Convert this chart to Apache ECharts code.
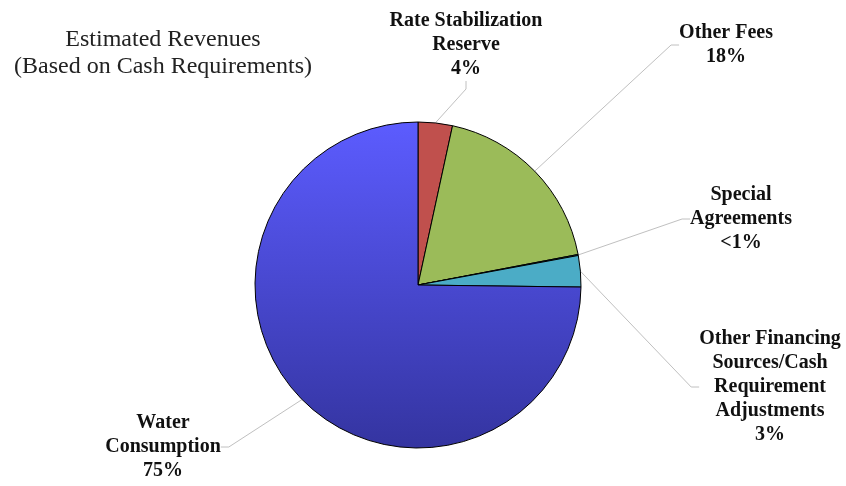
<!DOCTYPE html>
<html>
<head>
<meta charset="utf-8">
<script src="https://cdn.jsdelivr.net/npm/echarts@6/dist/echarts.min.js"></script>
<style>
  html, body { margin: 0; padding: 0; background: #fff; }
  #main { width: 846px; height: 486px; }
</style>
</head>
<body>
<div id="main"></div>
<script>
// slice data, clockwise from 12 o'clock
var names = ['Rate Stabilization\nReserve', 'Other Fees', 'Special\nAgreements',
             'Other Financing\nSources/Cash\nRequirement\nAdjustments', 'Water\nConsumption'];
var values = [3.4, 18.6, 0.1, 3.1, 74.8];
var pctLabels = ['4%', '18%', '<1%', '3%', '75%'];

var colors = [
    '#c0504d', '#9bbb59', '#4bacc6', '#4bacc6',
    new echarts.graphic.LinearGradient(0, 0, 0, 1, [
        { offset: 0, color: '#5c5cff' },
        { offset: 1, color: '#3434a0' }
    ])
];
// where each label block sits (center x, center y)
var labelPos = [[466, 45], [726, 45], [741, 219], [770, 387], [163, 447]];

var data = [];
for (var i = 0; i < names.length; i++) {
    data.push({
        name: names[i],
        value: values[i],
        itemStyle: { color: colors[i] }
    });
}

var myChart = echarts.init(document.getElementById('main'));
var option = {
    backgroundColor: '#fff',
    animation: false,
    title: {
        text: 'Estimated Revenues\n(Based on Cash Requirements)',
        left: 158,
        top: 21,
        textAlign: 'center',
        textStyle: {
            fontFamily: 'Liberation Serif',
            fontWeight: 'normal',
            fontSize: 24,
            lineHeight: 27,
            color: '#222'
        }
    },
    series: [
        {
            type: 'pie',
            center: [418, 285],
            radius: 163,
            startAngle: 90,
            clockwise: true,
            data: data,
            itemStyle: {
                borderColor: '#000',
                borderWidth: 1
            },
            label: {
                show: true,
                position: 'outside',
                fontFamily: 'Liberation Serif',
                fontWeight: 'bold',
                fontSize: 20,
                lineHeight: 24,
                color: '#111',
                align: 'center',
                formatter: function (p) {
                    return p.name + '\n' + pctLabels[p.dataIndex];
                }
            },
            labelLine: {
                show: true,
                length: 20,
                length2: 8,
                smooth: false,
                lineStyle: { color: '#c0c0c0', width: 1 }
            },
            labelLayout: function (params) {
                var pos = labelPos[params.dataIndex];
                return {
                    x: pos[0],
                    y: pos[1],
                    align: 'center',
                    verticalAlign: 'middle'
                };
            }
        }
    ]
};
myChart.setOption(option);
</script>
</body>
</html>
